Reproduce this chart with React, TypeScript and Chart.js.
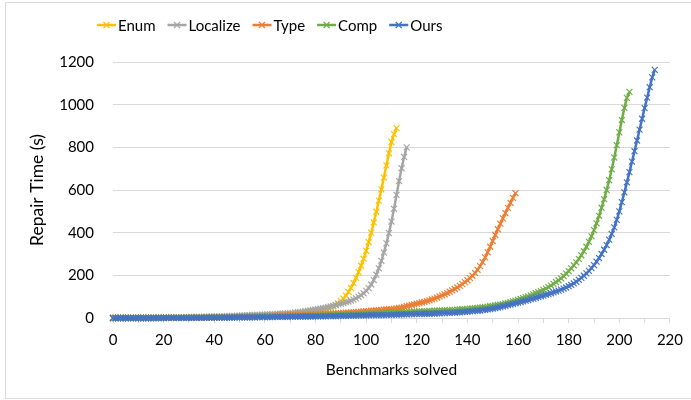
import React, { useEffect, useRef } from "react";
import { Chart, registerables } from "chart.js";

Chart.register(...registerables);

const seriesNames = ["Enum", "Localize", "Type", "Comp", "Ours"];
const seriesColors = ["#FFC000", "#A5A5A5", "#ED7D31", "#70AD47", "#4472C4"];

const enumData = [
  0,0,0,0,0,0,0,0,0,0,
  0,0,0,0,1,1,1,1,1,1,
  1,1,1,1,1,1,2,2,2,2,
  2,2,2,2,3,3,3,3,3,3,
  3,4,4,4,4,5,5,5,5,6,
  6,6,7,7,7,8,8,9,9,10,
  10,11,12,12,13,14,15,16,17,18,
  19,20,21,22,24,25,27,29,31,33,
  35,37,39,41,43,46,50,55,61,69,
  79,91,105,122,141,163,188,215,245,278,
  315,356,400,448,498,550,603,658,715,772,825,862,890,
];

const localizeData = [
  0,0,0,0,0,0,0,1,1,1,
  1,1,1,1,1,1,2,2,2,2,
  2,2,2,3,3,3,3,3,4,4,
  4,4,5,5,5,5,6,6,6,7,
  7,7,8,8,8,9,9,10,10,11,
  11,12,12,13,13,14,14,15,15,16,
  16,17,17,18,18,19,20,20,21,22,
  23,24,25,27,28,30,32,34,36,38,
  40,42,44,46,48,51,54,57,60,64,
  67,70,74,77,81,86,92,99,107,116,
  127,140,157,178,203,233,268,307,350,
  398,452,512,577,642,702,755,800,
];

const typeData = [
  0,0,0,0,0,0,0,0,0,0,
  0,0,0,0,0,0,1,1,1,1,
  1,1,1,1,1,1,1,1,2,2,
  2,2,2,2,2,2,3,3,3,3,
  3,3,3,4,4,4,4,4,5,5,
  5,5,6,6,6,7,7,7,8,8,
  8,9,9,10,10,11,11,12,12,13,
  13,14,14,15,15,16,16,17,17,18,
  18,19,19,20,20,21,21,22,22,23,
  23,24,25,25,26,27,28,29,30,31,
  32,33,34,35,36,37,38,39,40,41,
  42,43,45,47,49,52,55,58,61,64,
  67,70,73,76,79,83,87,91,96,101,
  106,111,117,123,129,136,143,151,159,168,
  177,187,198,211,226,243,262,284,308,334,
  361,389,416,442,467,492,516,540,563,585,
];

const compData = [
  0,0,0,0,0,0,0,0,0,0,
  0,0,0,0,0,0,0,0,1,1,
  1,1,1,1,1,1,1,1,1,1,
  1,2,2,2,2,2,2,2,2,2,
  2,3,3,3,3,3,3,3,4,4,
  4,4,4,4,5,5,5,5,5,6,
  6,6,6,7,7,7,7,8,8,8,
  8,9,9,9,10,10,10,11,11,11,
  12,12,12,13,13,13,14,14,15,15,
  15,16,16,17,17,18,18,19,19,20,
  20,21,21,22,22,23,23,24,24,25,
  25,26,26,27,27,28,28,29,29,30,
  30,31,31,32,32,33,33,34,34,35,
  35,36,36,37,38,38,39,40,41,42,
  43,44,45,46,47,48,50,51,53,55,
  57,59,61,63,65,68,71,74,78,81,
  85,89,93,97,101,106,111,116,121,126,
  132,138,145,152,160,168,177,186,197,208,
  220,233,247,261,277,294,313,334,357,383,
  412,444,479,517,557,600,646,697,752,810,
  870,928,985,1032,1060,
];

const oursData = [
  0,0,0,0,0,0,0,0,0,0,
  0,0,0,0,0,0,0,0,0,0,
  0,1,1,1,1,1,1,1,1,1,
  1,1,1,1,1,1,1,2,2,2,
  2,2,2,2,2,2,2,2,3,3,
  3,3,3,3,3,3,3,4,4,4,
  4,4,4,4,5,5,5,5,5,5,
  6,6,6,6,6,7,7,7,7,7,
  8,8,8,8,8,9,9,9,9,10,
  10,10,10,11,11,11,11,12,12,12,
  12,13,13,13,14,14,14,14,15,15,
  15,16,16,16,17,17,17,18,18,18,
  19,19,19,20,20,20,21,21,22,22,
  23,23,24,24,25,25,26,27,28,29,
  30,31,32,33,34,35,37,38,40,42,
  44,46,49,51,54,57,60,63,66,69,
  72,75,78,81,84,88,91,95,98,102,
  105,109,112,116,120,124,128,133,138,143,
  149,155,162,170,179,188,198,209,221,234,
  248,264,281,300,320,342,367,394,425,460,
  500,543,589,636,684,733,782,832,883,934,
  984,1033,1082,1128,1163,
];

const seriesValues = [enumData, localizeData, typeData, compData, oursData];

const xMin = 0;
const xMax = 220;
const xStep = 10;
const xLabelEvery = 20;
const yMin = 0;
const yMax = 1200;
const yStep = 200;
const xTitle = "Benchmarks solved";
const yTitle = "Repair Time (s)";

const FONT = "Lato, 'Open Sans', sans-serif";

const legendPlugin = {
  id: "excelLegend",
  afterDraw(chart: any) {
    const ctx = chart.ctx;
    ctx.save();
    ctx.font = `15px ${FONT}`;
    ctx.textBaseline = "middle";
    let x = 97;
    const y = 25;
    chart.data.datasets.forEach((ds: any) => {
      ctx.strokeStyle = ds.borderColor;
      ctx.lineWidth = 2.5;
      ctx.beginPath();
      ctx.moveTo(x, y);
      ctx.lineTo(x + 19, y);
      ctx.stroke();
      const cx = x + 9.5;
      const r = 3;
      ctx.lineWidth = 1.2;
      ctx.beginPath();
      ctx.moveTo(cx - r, y - r);
      ctx.lineTo(cx + r, y + r);
      ctx.moveTo(cx - r, y + r);
      ctx.lineTo(cx + r, y - r);
      ctx.stroke();
      ctx.fillStyle = "#000";
      ctx.fillText(ds.label, x + 21, y + 1);
      x += 21 + ctx.measureText(ds.label).width + 12;
    });
    ctx.restore();
  },
};

export default function App() {
  const canvasRef = useRef<HTMLCanvasElement | null>(null);

  useEffect(() => {
    const canvas = canvasRef.current;
    if (!canvas) return;
    const datasets = seriesNames.map((name, i) => ({
      label: name,
      data: seriesValues[i].map((v, idx) => ({ x: idx, y: v })),
      borderColor: seriesColors[i],
      backgroundColor: seriesColors[i],
      borderWidth: 2.5,
      pointStyle: "crossRot" as const,
      pointRadius: 4.2,
      pointBorderWidth: 1.2,
      pointBorderColor: seriesColors[i],
      pointBackgroundColor: seriesColors[i],
      tension: 0,
      order: seriesNames.length - 1 - i,
      clip: 6,
    }));

    const chart = new Chart(canvas, {
      type: "line",
      data: { datasets },
      plugins: [legendPlugin],
      options: {
        animation: false,
        responsive: false,
        devicePixelRatio: 1,
        events: [],
        layout: { padding: { top: 62, right: 18, bottom: 0, left: 0 } },
        plugins: {
          legend: { display: false },
          tooltip: { enabled: false },
        },
        scales: {
          x: {
            type: "linear",
            min: xMin,
            max: xMax,
            afterFit: (scale: any) => {
              scale.height = 82;
            },
            ticks: {
              stepSize: xStep,
              autoSkip: false,
              maxRotation: 0,
              padding: 8,
              color: "#000",
              font: { family: FONT, size: 15 },
              callback: (v: any) => (Number(v) % xLabelEvery === 0 ? String(v) : ""),
            },
            grid: {
              drawOnChartArea: false,
              drawTicks: true,
              tickLength: 5,
              color: "#D9D9D9",
            },
            border: { display: true, color: "#D9D9D9", width: 1 },
            title: {
              display: true,
              text: xTitle,
              color: "#000",
              font: { family: FONT, size: 15.5 },
              padding: { top: 0, bottom: 21 },
            },
          },
          y: {
            type: "linear",
            min: yMin,
            max: yMax,
            afterFit: (scale: any) => {
              scale.width = 113;
            },
            ticks: {
              stepSize: yStep,
              padding: 19,
              color: "#000",
              font: { family: FONT, size: 15 },
              callback: (v: any) => String(v),
            },
            grid: {
              drawTicks: false,
              color: "#D9D9D9",
            },
            border: { display: false },
            title: {
              display: true,
              text: yTitle,
              color: "#000",
              font: { family: FONT, size: 17.5 },
              padding: { top: 27, bottom: 0 },
            },
          },
        },
      },
    });
    return () => chart.destroy();
  }, []);

  return (
    <div
      style={{
        position: "fixed",
        left: 0,
        top: 0,
        width: 691,
        height: 400,
        background: "#fff",
        overflow: "hidden",
      }}
    >
      <div
        style={{
          position: "absolute",
          left: 5,
          top: 2,
          width: 700,
          height: 397,
          boxSizing: "border-box",
          border: "1px solid #DCDCDC",
        }}
      />
      <canvas
        ref={canvasRef}
        width={691}
        height={400}
        style={{ position: "absolute", left: 0, top: 0, width: 691, height: 400 }}
      />
    </div>
  );
}
